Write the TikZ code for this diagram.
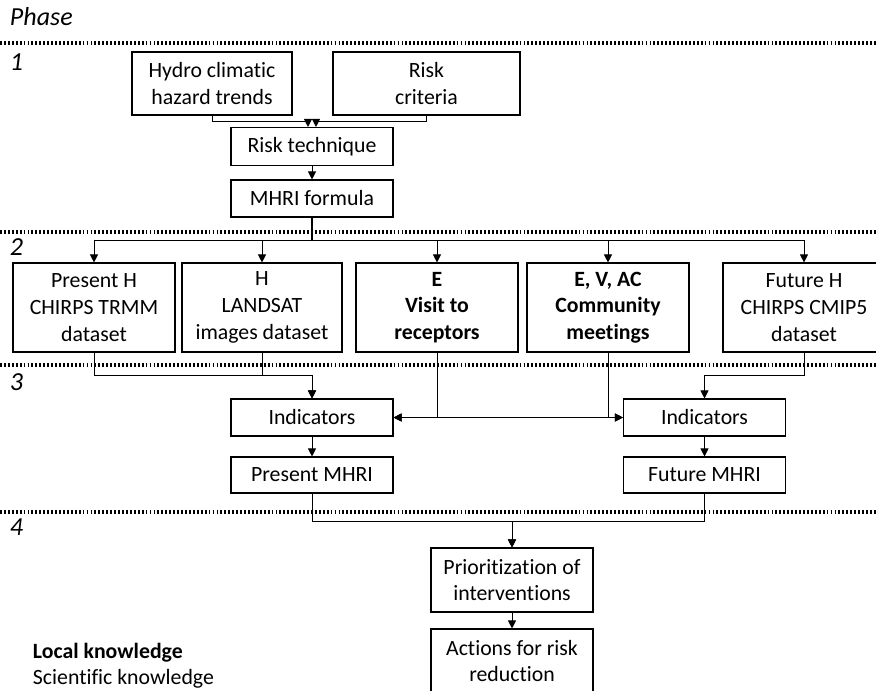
\documentclass[tikz,border=0pt]{standalone}
\usepackage{fontspec}
\setmainfont{Carlito}[Ligatures=NoCommon]
\usetikzlibrary{arrows.meta}

\begin{document}
\begin{tikzpicture}[x=0.25mm, y=-0.25mm, font=\fontsize{15.5}{19}\selectfont,
        box/.style = {draw, line width=0.8pt, align=center, inner sep=0pt, minimum width=40.5mm},
        arr/.style = {-{Triangle[length=2mm, width=2mm]}, line width=0.6pt},
        sep/.style = {line width=2.2pt, dash pattern=on 1.3pt off 1.5pt},
        phase/.style = {anchor=west, font=\fontsize{18.5}{20}\selectfont\itshape}]
        \useasboundingbox (0,0) rectangle (876,690);
        \clip (0,0) rectangle (876,690);

        \node[phase] (ph0) at (5,17) {Phase};
        \node[phase] (ph1) at (5,62) {1};
        \node[phase] (ph2) at (5,247) {2};
        \node[phase] (ph3) at (5,382) {3};
        \node[phase] (ph4) at (5,527) {4};

        \draw[sep] (0,43) -- (876,43);
        \draw[sep] (0,232) -- (876,232);
        \draw[sep] (0,365) -- (876,365);
        \draw[sep] (0,512) -- (876,512);

        \node[box, minimum width=40mm, minimum height=15.75mm] (hyd) at (212,83.5) {Hydro climatic\\hazard trends};
        \node[box, minimum width=46.75mm, minimum height=15.75mm] (crit) at (426.5,83.5) {Risk\\criteria};
        \node[box, minimum height=9.5mm] (rt) at (312,146.5) {Risk technique};
        \node[box, minimum height=9.25mm] (mhri) at (312,198.5) {MHRI formula};
        \coordinate (br) at (312,240);

        \node[box, minimum height=22.25mm] (ph) at (94,307.5) {Present H\\CHIRPS TRMM\\dataset};
        \node[box, minimum width=40mm, minimum height=22.25mm] (ls) at (262,307.5) {H\\LANDSAT\\images dataset};
        \node[box, minimum height=22.25mm, font=\fontsize{15.5}{19}\selectfont\bfseries] (ev) at (437,307.5) {E\\Visit to\\receptors};
        \node[box, minimum height=22.25mm, font=\fontsize{15.5}{19}\selectfont\bfseries] (evac) at (608,307.5) {E, V, AC\\Community\\meetings};
        \node[box, minimum height=22.25mm] (fh) at (804,307.5) {Future H\\CHIRPS CMIP5\\dataset};

        \node[box, minimum height=9.25mm] (ind1) at (312,417.5) {Indicators};
        \node[box, minimum height=9.25mm] (ind2) at (704.5,417.5) {Indicators};
        \node[box, minimum height=9mm] (pm) at (312,475) {Present MHRI};
        \node[box, minimum height=9mm] (fm) at (704.5,475) {Future MHRI};

        \node[box, minimum height=16mm] (pr) at (512,580) {Prioritization of\\interventions};
        \node[box, minimum height=16mm] (ac) at (512,661) {Actions for risk\\reduction};

        \node[anchor=west, font=\fontsize{15.5}{19}\selectfont\bfseries] (lk) at (28,653) {Local knowledge};
        \node[anchor=west] (sk) at (28,679) {Scientific knowledge};

        \draw[arr] (hyd.south) -- ++(0,6) -| ([xshift=-1mm]rt.north);
        \draw[arr] (crit.south) -- ++(0,6) -| ([xshift=1mm]rt.north);
        \draw[arr] (rt) -- (mhri);
        \draw[line width=1.5pt] (mhri.south) -- (br);

        \draw[arr] (br) -| (ph.north);
        \draw[arr] (br) -| (ls.north);
        \draw[arr] (br) -| (ev.north);
        \draw[arr] (br) -| (evac.north);
        \draw[arr] (br) -| (fh.north);

        \draw[arr] (ph.south) -- ++(0,23) -| (ind1.north);
        \draw[arr] (ls.south) -- ++(0,23) -| (ind1.north);
        \draw[arr] (ev.south) |- (ind1.east);
        \draw[arr] (ev.south) |- (ind2.west);
        \draw[arr] (evac.south) |- (ind1.east);
        \draw[arr] (evac.south) |- (ind2.west);
        \draw[arr] (fh.south) -- ++(0,23) -| (ind2.north);

        \draw[arr] (ind1) -- (pm);
        \draw[arr] (ind2) -- (fm);
        \draw[arr] (pm.south) -- ++(0,28) -| (pr.north);
        \draw[arr] (fm.south) -- ++(0,28) -| (pr.north);
        \draw[arr] (pr) -- (ac);
    \end{tikzpicture}
\end{document}
